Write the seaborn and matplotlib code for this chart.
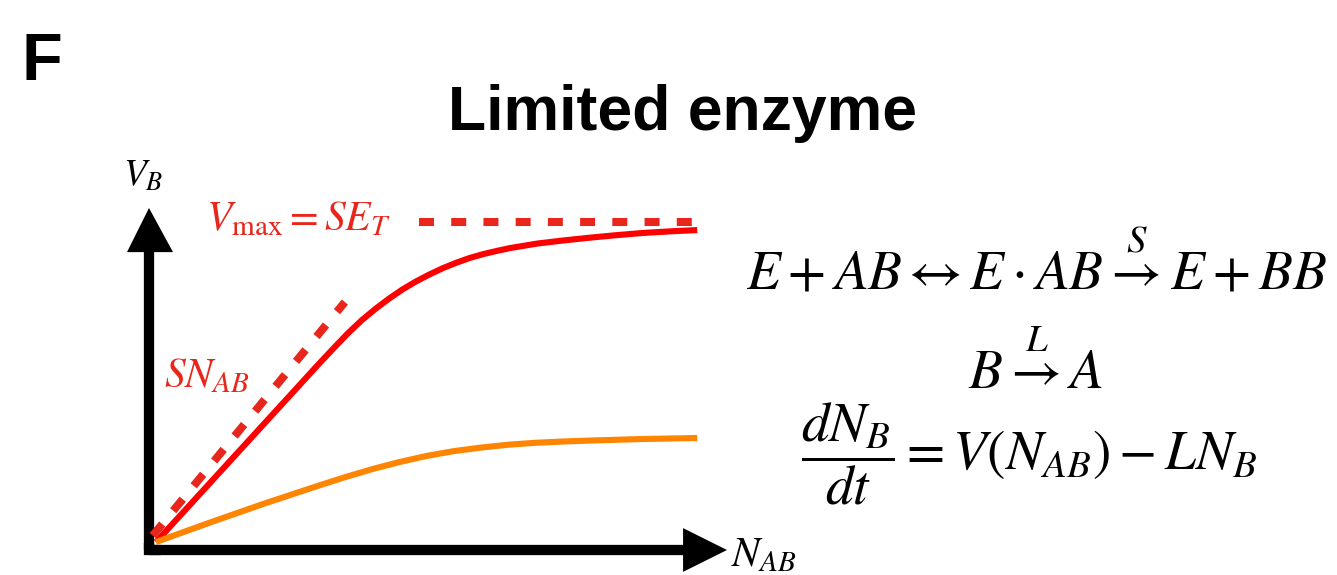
import matplotlib
matplotlib.use("Agg")
import matplotlib.pyplot as plt
import seaborn as sns

# Substrate abundance N_AB (arbitrary units) and reaction velocity V_B
n_ab = [0.0, 1.0, 2.0, 3.0, 3.3, 3.55, 3.8, 4.05, 4.3, 4.55, 4.8, 5.05, 5.3,
        5.55, 5.8, 6.05, 6.3, 6.55, 6.8, 7.05, 7.5, 8.0, 8.5, 9.0, 9.5, 10.0]
v_high = [0.0, 1.85, 3.70, 5.55, 6.09, 6.53, 6.93, 7.28, 7.60, 7.89, 8.14, 8.36, 8.56,
          8.73, 8.88, 9.00, 9.10, 9.19, 9.26, 9.33, 9.42, 9.51, 9.59, 9.66, 9.71, 9.75]

n_ab_low = [0.0, 1.0, 2.0, 2.5, 3.0, 3.5, 4.0, 4.5, 5.0, 5.5, 6.0, 6.5, 7.0, 7.5,
            8.0, 9.0, 10.0]
v_low = [0.0, 0.61, 1.20, 1.48, 1.76, 2.03, 2.28, 2.50, 2.69, 2.84, 2.95, 3.04,
         3.10, 3.14, 3.17, 3.22, 3.25]

# Asymptotes: initial slope S*N_AB and saturation Vmax = S*E_T
slope_x = [-0.06, 3.49]
slope_y = [0.20, 7.50]
vmax_x = [4.86, 9.90]
vmax_y = [10.0, 10.0]

W, H = 1337, 575

sns.set_theme(style="white")
plt.rcParams["font.family"] = ["Liberation Sans", "DejaVu Sans"]
plt.rcParams["mathtext.fontset"] = "stix"
plt.rcParams["text.color"] = "black"

RED = "#ff0000"
DASH_RED = "#e8261b"
ORANGE = "#ff8400"

fig = plt.figure(figsize=(W / 100, H / 100), dpi=100)
fig.patch.set_facecolor("white")


def fx(px):
    return px / W


def fy(py):
    return 1 - py / H


ax = fig.add_axes([fx(149), fy(550), (727 - 149) / W, (550 - 208) / H])
ax.set_xlim(-0.129, 10.55)
ax.set_ylim(-0.25, 10.44)
ax.axis("off")

# Hand-drawn style axes with arrowheads
axis_lw = 7.4
ax.plot([0, 0], [0, 0.88], transform=ax.transAxes, color="black", lw=axis_lw,
        solid_capstyle="butt", clip_on=False)
ax.plot([0, 0.93], [0, 0], transform=ax.transAxes, color="black", lw=axis_lw,
        solid_capstyle="butt", clip_on=False)
ax.plot([0, 0, 0.02], [0.02, 0, 0], transform=ax.transAxes, color="black", lw=axis_lw,
        solid_joinstyle="miter", solid_capstyle="butt", clip_on=False)
ax.fill([-22 / 578, 0, 24 / 578], [0.871, 1.0, 0.871], transform=ax.transAxes,
        color="black", lw=0, clip_on=False)
ax.fill([0.924, 1.0, 0.924], [0.064, 0.0, -0.064], transform=ax.transAxes,
        color="black", lw=0, clip_on=False)

# Curves
sns.lineplot(x=n_ab, y=v_high, ax=ax, color=RED, lw=4.4, sort=False,
             solid_capstyle="butt", solid_joinstyle="round", clip_on=False)
sns.lineplot(x=n_ab_low, y=v_low, ax=ax, color=ORANGE, lw=4.4, sort=False,
             solid_capstyle="butt", solid_joinstyle="round", clip_on=False)
sns.lineplot(x=slope_x, y=slope_y, ax=ax, color=DASH_RED, lw=5.8, sort=False,
             linestyle=(0, (1.86, 2.14)), dash_capstyle="butt", clip_on=False)
sns.lineplot(x=vmax_x, y=vmax_y, ax=ax, color=DASH_RED, lw=5.8, sort=False,
             linestyle=(0, (1.86, 2.14)), dash_capstyle="butt", clip_on=False)

# Axis labels
fig.text(fx(123), fy(186), r"$V_B$", fontsize=27, ha="left", va="baseline")
fig.text(fx(731), fy(566), r"$N_{AB}$", fontsize=30, ha="left", va="baseline")

# Curve annotations
fig.text(fx(206), fy(230), r"$V_{\mathrm{max}} = SE_T$", fontsize=30,
         color=DASH_RED, ha="left", va="baseline")
fig.text(fx(164), fy(387), r"$SN_{AB}$", fontsize=30, color=DASH_RED,
         ha="left", va="baseline")

# Panel letter and title
fig.text(fx(21), fy(80), "F", fontsize=48, fontweight="bold", ha="left",
         va="baseline")
fig.text(fx(682), fy(130), "Limited enzyme", fontsize=45, fontweight="bold",
         ha="center", va="baseline")

# Reaction scheme
cx = fx(1036)
fig.text(cx, fy(290), r"$E + AB \leftrightarrow E \cdot AB \overset{S}{\rightarrow} E + BB$",
         fontsize=40, ha="center", va="baseline")
fig.text(cx, fy(389), r"$B \overset{L}{\rightarrow} A$", fontsize=40,
         ha="center", va="baseline")
fig.text(fx(1029), fy(470), r"$\dfrac{dN_B}{dt} = V(N_{AB}) - LN_B$", fontsize=40,
         ha="center", va="baseline")

fig.savefig("out.png", dpi=100, facecolor="white")
